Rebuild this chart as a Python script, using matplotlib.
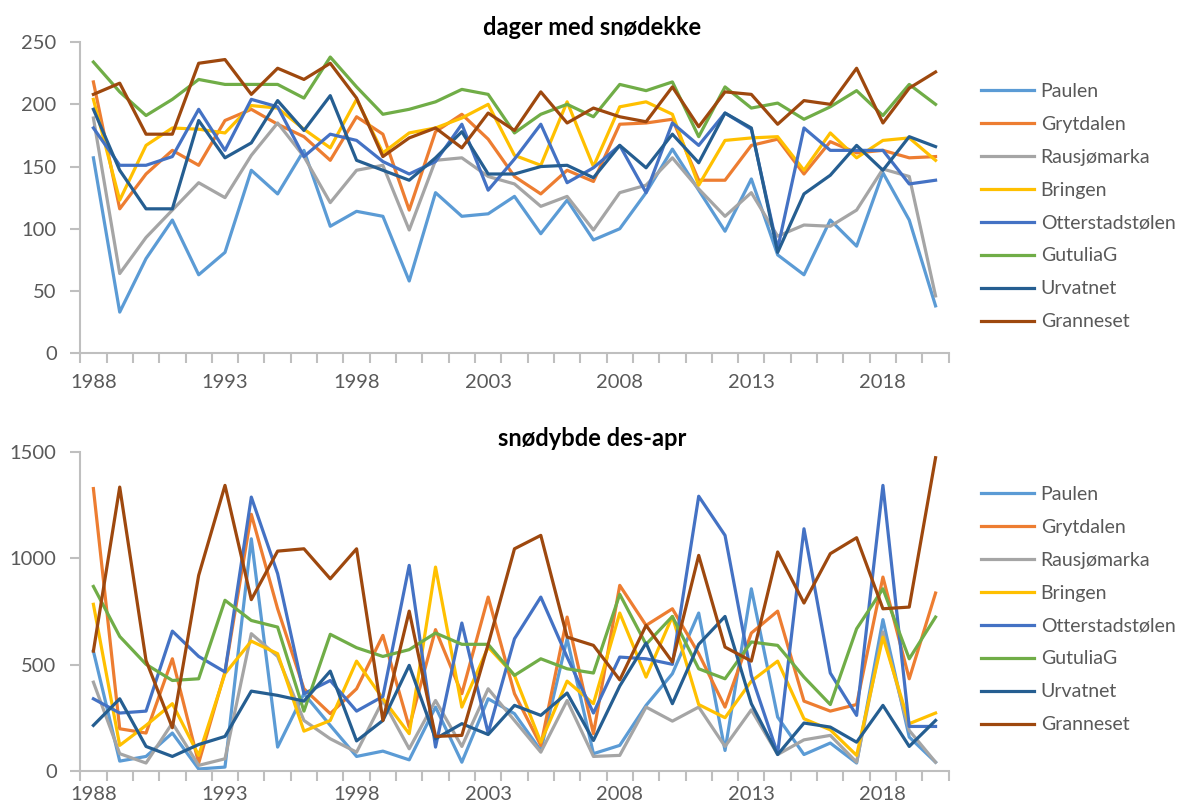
import matplotlib
matplotlib.use('Agg')
import numpy as np
import matplotlib.pyplot as plt

# Stasjoner og farger
stasjoner = ['Paulen', 'Grytdalen', 'Rausjømarka', 'Bringen',
             'Otterstadstølen', 'GutuliaG', 'Urvatnet', 'Granneset']
farger = ['#5B9BD5', '#ED7D31', '#A5A5A5', '#FFC000',
          '#4472C4', '#70AD47', '#255E91', '#9E480E']

aar = np.arange(1988, 2021)

# dager med snødekke
paulen_d = [157, 33, 76, 107, 63, 81, 147, 128, 163, 102, 114, 110, 58, 129, 110, 112, 126,
            96, 123, 91, 100, 129, 164, 131, 98, 140, 79, 63, 107, 86, 145, 107, 38]
grytdalen_d = [218, 116, 144, 163, 151, 187, 196, 184, 174, 155, 190, 176, 115, 178, 192, 172, 142,
               128, 147, 138, 184, 185, 188, 139, 139, 167, 172, 144, 170, 161, 163, 157, 158]
rausjo_d = [189, 64, 93, 115, 137, 125, 159, 185, 158, 121, 147, 151, 99, 155, 157, 142, 136,
            118, 126, 99, 129, 135, 157, 132, 110, 129, 94, 103, 102, 115, 148, 142, 46]
bringen_d = [204, 123, 167, 181, 180, 177, 199, 197, 180, 165, 204, 161, 177, 181, 189, 200, 159,
             151, 202, 150, 198, 202, 192, 135, 171, 173, 174, 147, 177, 157, 171, 173, 155]
otter_d = [181, 151, 151, 158, 196, 163, 204, 198, 158, 176, 171, 154, 144, 154, 184, 131, 156,
           184, 137, 149, 167, 129, 185, 167, 193, 180, 84, 181, 163, 163, 163, 136, 139]
gutulia_d = [234, 210, 191, 204, 220, 216, 216, 216, 205, 238, 214, 192, 196, 202, 212, 208, 177,
             192, 200, 190, 216, 211, 218, 174, 214, 197, 201, 188, 198, 211, 191, 216, 200]
urvatnet_d = [196, 147, 116, 116, 187, 157, 169, 203, 179, 207, 155, 147, 139, 157, 178, 144, 144,
              150, 151, 141, 167, 149, 176, 153, 193, 181, 81, 128, 143, 167, 147, 174, 166]
granneset_d = [208, 217, 176, 176, 233, 236, 208, 229, 220, 233, 205, 158, 173, 181, 165, 193, 179,
               210, 185, 197, 190, 186, 214, 182, 210, 208, 184, 203, 200, 229, 185, 213, 226]

# snødybde des-apr
paulen_s = [564, 47, 69, 179, 10, 19, 1092, 113, 364, 215, 69, 94, 53, 301, 42, 340, 270,
            97, 622, 82, 121, 309, 458, 743, 97, 857, 254, 78, 132, 38, 712, 160, 42]
grytdalen_s = [1328, 199, 179, 528, 38, 466, 1207, 763, 387, 270, 387, 638, 207, 665, 364, 818, 364,
               121, 724, 176, 873, 685, 763, 552, 301, 649, 752, 329, 282, 313, 912, 434, 837]
rausjo_s = [418, 82, 38, 226, 27, 58, 646, 539, 238, 152, 89, 332, 105, 332, 116, 387, 238,
            89, 332, 69, 74, 301, 235, 301, 116, 288, 78, 147, 168, 42, 654, 191, 42]
bringen_s = [784, 121, 215, 317, 74, 458, 611, 552, 188, 238, 517, 340, 176, 959, 301, 583, 450,
             136, 423, 317, 743, 442, 727, 313, 251, 423, 517, 246, 194, 74, 630, 223, 273]
otter_s = [340, 273, 282, 658, 539, 466, 1288, 928, 364, 426, 282, 351, 967, 113, 696, 179, 622,
           818, 536, 273, 536, 528, 502, 1292, 1108, 450, 82, 1139, 461, 262, 1343, 210, 210]
gutulia_s = [868, 633, 502, 426, 434, 803, 708, 677, 282, 643, 580, 539, 571, 649, 596, 596, 450,
             528, 481, 461, 831, 596, 727, 481, 434, 607, 591, 442, 313, 669, 857, 528, 724]
urvatnet_s = [215, 340, 116, 69, 125, 163, 376, 356, 329, 470, 142, 238, 497, 152, 223, 172, 309,
              262, 367, 144, 400, 602, 317, 596, 727, 317, 78, 226, 207, 136, 309, 116, 238]
granneset_s = [564, 1335, 520, 204, 920, 1343, 806, 1034, 1045, 904, 1045, 238, 752, 163, 168, 596, 1045,
               1108, 630, 591, 429, 685, 513, 1014, 583, 517, 1030, 790, 1022, 1097, 763, 771, 1473]

dager = [paulen_d, grytdalen_d, rausjo_d, bringen_d, otter_d, gutulia_d, urvatnet_d, granneset_d]
dybde = [paulen_s, grytdalen_s, rausjo_s, bringen_s, otter_s, gutulia_s, urvatnet_s, granneset_s]

plt.rcParams['font.family'] = ['Lato', 'DejaVu Sans']
graa = '#BFBFBF'
tekst = '#595959'

fig = plt.figure(figsize=(11.8, 8.1), dpi=100)
ax1 = fig.add_axes([0.068, 0.564, 0.736, 0.384])
ax2 = fig.add_axes([0.068, 0.048, 0.736, 0.394])

x = np.arange(len(aar))


def oppsett(ax, serier, ymax, ystep, xpad):
    for serie, navn, farge in zip(serier, stasjoner, farger):
        ax.plot(x, serie, color=farge, lw=2.3, label=navn, solid_joinstyle='round')
    ax.set_xlim(-0.5, len(aar) - 0.5)
    ax.set_ylim(0, ymax)
    ax.set_yticks(np.arange(0, ymax + 1, ystep))
    # kategoriakse: tikker mellom årene, etikett hvert 5. år
    ax.set_xticks(np.arange(-0.5, len(aar), 1.0))
    ax.set_xticklabels([])
    ax.set_xticks(x[::5], minor=True)
    ax.set_xticklabels([str(a) for a in aar[::5]], minor=True)
    ax.tick_params(axis='x', which='major', length=7, width=1.5, color=graa, direction='out')
    ax.tick_params(axis='x', which='minor', length=0, pad=xpad, labelsize=14.5, labelcolor=tekst)
    ax.tick_params(axis='y', length=7, width=1.5, color=graa, pad=10, labelsize=14.5,
                   labelcolor=tekst)
    for s in ['top', 'right']:
        ax.spines[s].set_visible(False)
    for s in ['left', 'bottom']:
        ax.spines[s].set_color(graa)
        ax.spines[s].set_linewidth(1.5)


oppsett(ax1, dager, 250, 50, 15)
oppsett(ax2, dybde, 1500, 500, 11)

fig.text(0.502, 0.966, 'dager med snødekke', ha='center', va='center',
         fontsize=17, fontweight='bold')
fig.text(0.502, 0.459, 'snødybde des-apr', ha='center', va='center',
         fontsize=17, fontweight='bold')

for ax, ymid in [(ax1, 0.745), (ax2, 0.2475)]:
    h, l = ax.get_legend_handles_labels()
    fig.legend(h, l, loc='center left', bbox_to_anchor=(0.831, ymid), frameon=False,
               fontsize=14, labelcolor=tekst, handlelength=2.73, handletextpad=0.36,
               labelspacing=0.82, borderpad=0, borderaxespad=0)

plt.savefig('out.png', dpi=100)
